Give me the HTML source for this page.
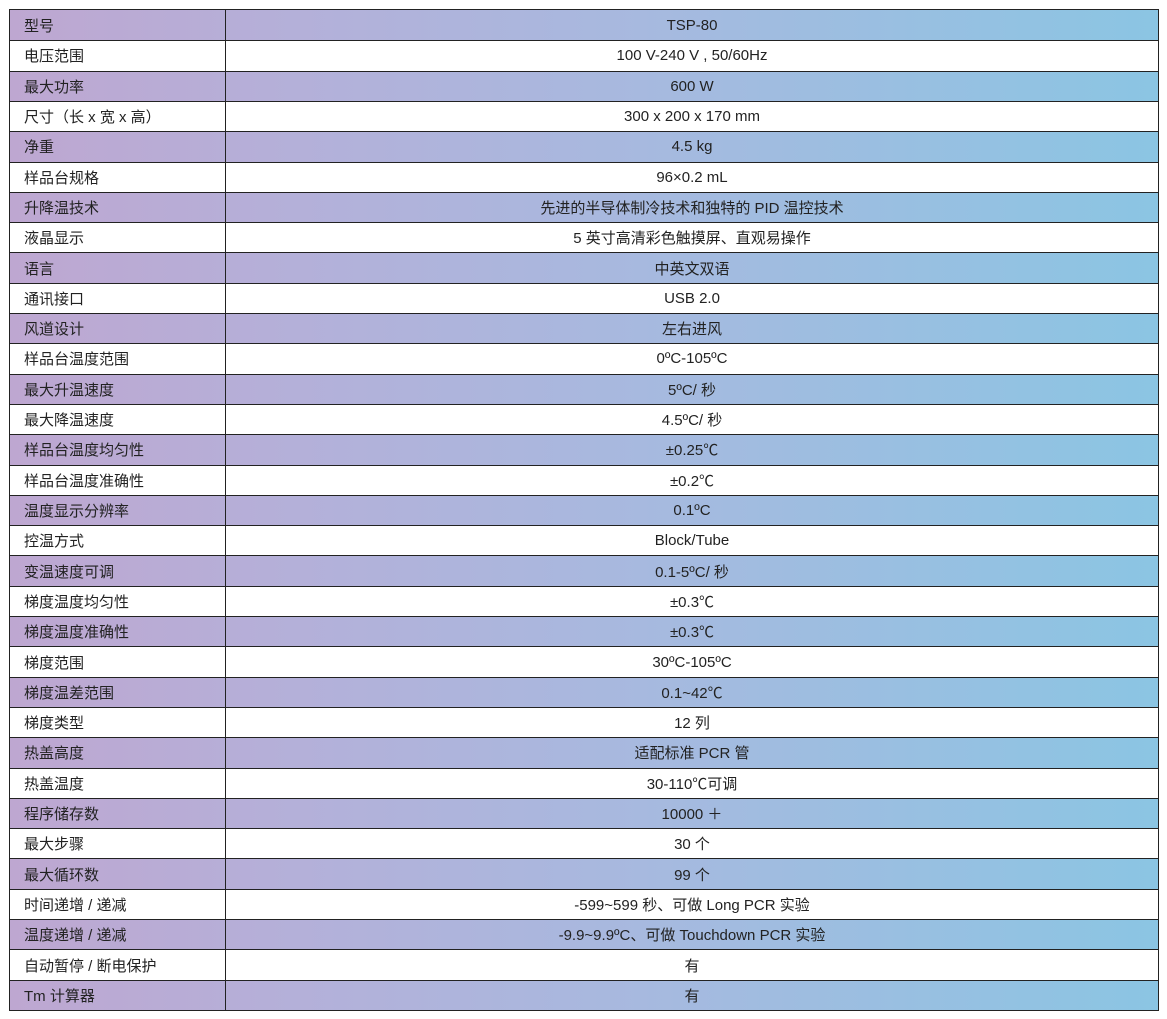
<!DOCTYPE html>
<html><head><meta charset="utf-8"><style>
body{margin:0;width:1167px;height:1019px;background:#fff;font-family:"Liberation Sans","Noto Sans CJK SC",sans-serif;font-size:15px;color:#222;}
#t{position:absolute;left:9px;top:9px;width:1150px;height:1002px;box-sizing:border-box;border:1px solid #222;display:grid;grid-template-rows:repeat(33,1fr);}
.r{display:grid;grid-template-columns:216px 1fr;border-top:1px solid #222;}
.r:first-child{border-top:none;}
.r>div{display:flex;align-items:center;}
.r>div:first-child{padding-left:14px;border-right:1px solid #222;}
.r>div:last-child{justify-content:center;}
.g{background:linear-gradient(90deg,#bea7d1 0%,#b4b0d9 25%,#a7b9df 55%,#8bc5e3 100%);}
</style></head><body>
<div id="t">
<div class="r g"><div>型号</div><div>TSP-80</div></div>
<div class="r"><div>电压范围</div><div>100 V-240 V , 50/60Hz</div></div>
<div class="r g"><div>最大功率</div><div>600 W</div></div>
<div class="r"><div>尺寸（长 x 宽 x 高）</div><div>300 x 200 x 170 mm</div></div>
<div class="r g"><div>净重</div><div>4.5 kg</div></div>
<div class="r"><div>样品台规格</div><div>96×0.2 mL</div></div>
<div class="r g"><div>升降温技术</div><div>先进的半导体制冷技术和独特的 PID 温控技术</div></div>
<div class="r"><div>液晶显示</div><div>5 英寸高清彩色触摸屏、直观易操作</div></div>
<div class="r g"><div>语言</div><div>中英文双语</div></div>
<div class="r"><div>通讯接口</div><div>USB 2.0</div></div>
<div class="r g"><div>风道设计</div><div>左右进风</div></div>
<div class="r"><div>样品台温度范围</div><div>0ºC-105ºC</div></div>
<div class="r g"><div>最大升温速度</div><div>5ºC/ 秒</div></div>
<div class="r"><div>最大降温速度</div><div>4.5ºC/ 秒</div></div>
<div class="r g"><div>样品台温度均匀性</div><div>±0.25℃</div></div>
<div class="r"><div>样品台温度准确性</div><div>±0.2℃</div></div>
<div class="r g"><div>温度显示分辨率</div><div>0.1ºC</div></div>
<div class="r"><div>控温方式</div><div>Block/Tube</div></div>
<div class="r g"><div>变温速度可调</div><div>0.1-5ºC/ 秒</div></div>
<div class="r"><div>梯度温度均匀性</div><div>±0.3℃</div></div>
<div class="r g"><div>梯度温度准确性</div><div>±0.3℃</div></div>
<div class="r"><div>梯度范围</div><div>30ºC-105ºC</div></div>
<div class="r g"><div>梯度温差范围</div><div>0.1~42℃</div></div>
<div class="r"><div>梯度类型</div><div>12 列</div></div>
<div class="r g"><div>热盖高度</div><div>适配标准 PCR 管</div></div>
<div class="r"><div>热盖温度</div><div>30-110℃可调</div></div>
<div class="r g"><div>程序储存数</div><div>10000 ＋</div></div>
<div class="r"><div>最大步骤</div><div>30 个</div></div>
<div class="r g"><div>最大循环数</div><div>99 个</div></div>
<div class="r"><div>时间递增 / 递减</div><div>-599~599 秒、可做 Long PCR 实验</div></div>
<div class="r g"><div>温度递增 / 递减</div><div>-9.9~9.9ºC、可做 Touchdown PCR 实验</div></div>
<div class="r"><div>自动暂停 / 断电保护</div><div>有</div></div>
<div class="r g"><div>Tm 计算器</div><div>有</div></div>
</div>
</body></html>
